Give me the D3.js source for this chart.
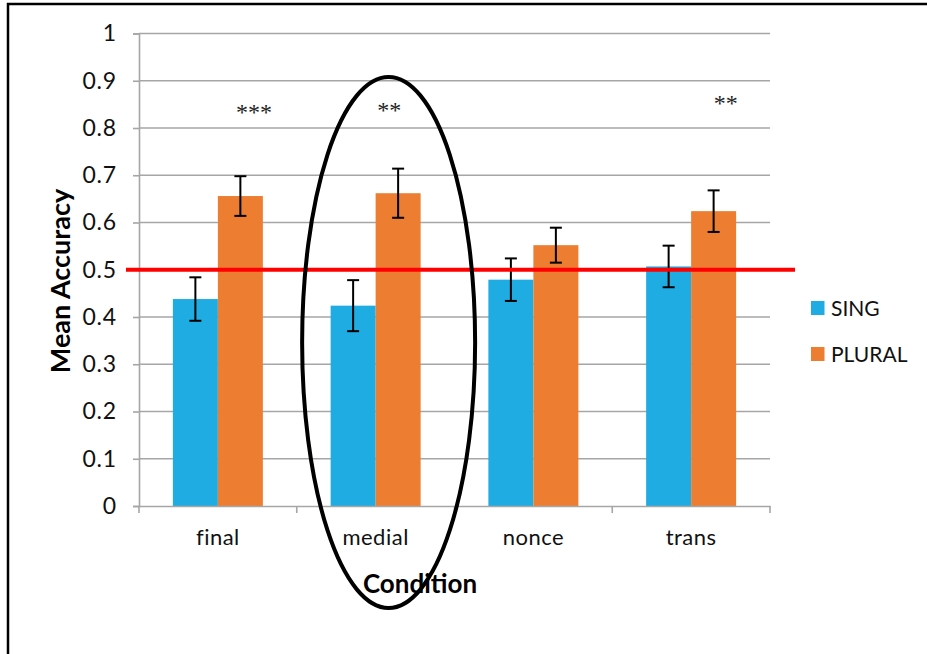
<!DOCTYPE html>
<html>
<head>
<meta charset="utf-8">
<script src="https://cdn.jsdelivr.net/npm/d3@7"></script>
<style>
  html, body { margin: 0; padding: 0; background: #fff; }
  svg { display: block; }
</style>
</head>
<body>
<svg id="chart" width="927" height="654"></svg>
<script>
// Mean accuracy per condition, singular vs plural items
const categories = ["final", "medial", "nonce", "trans"];
const seriesNames = ["SING", "PLURAL"];
const singValues = [0.438, 0.424, 0.479, 0.507];
const pluralValues = [0.656, 0.662, 0.552, 0.624];
const singErrors = [0.046, 0.054, 0.045, 0.044];
const pluralErrors = [0.042, 0.052, 0.037, 0.044];
// Significance stars and the accuracy level their baseline sits at
const significance = ["***", "**", "", "**"];
const sigLevels = [0.816, 0.822, null, 0.835];
const yTicks = [0, 0.1, 0.2, 0.3, 0.4, 0.5, 0.6, 0.7, 0.8, 0.9, 1];
const chanceLevel = 0.5;
const seriesColors = ["#1FACE3", "#ED7D31"];

const svg = d3.select("#chart");
const font = "Lato, 'Noto Sans', sans-serif";

// Outer frame
svg.append("rect")
  .attr("x", 8).attr("y", 4)
  .attr("width", 1000).attr("height", 1000)
  .attr("fill", "none").attr("stroke", "#000").attr("stroke-width", 2.5);

const plot = { left: 139, right: 770, top: 33.5, bottom: 506 };

const y = d3.scaleLinear().domain([0, 1]).range([plot.bottom, plot.top]);
const x0 = d3.scaleBand().domain(categories).range([plot.left, plot.right]).padding(0);
const x1 = d3.scaleBand().domain(seriesNames).range([0, x0.bandwidth()])
  .paddingInner(0).paddingOuter(0.753);
const color = d3.scaleOrdinal().domain(seriesNames).range(seriesColors);

// Horizontal gridlines
svg.append("g")
  .selectAll("line")
  .data(yTicks.filter(d => d > 0))
  .join("line")
  .attr("x1", plot.left).attr("x2", plot.right)
  .attr("y1", d => y(d)).attr("y2", d => y(d))
  .attr("stroke", "#A6A6A6").attr("stroke-width", 1.6);

// Y axis
const yAxis = svg.append("g")
  .attr("transform", `translate(${plot.left},0)`)
  .call(d3.axisLeft(y).tickValues(yTicks).tickSize(6).tickPadding(16)
    .tickFormat(d => d3.format("~g")(d)));
yAxis.selectAll("path, line").attr("stroke", "#A6A6A6").attr("stroke-width", 1.6);
yAxis.selectAll("text").attr("font-family", font).attr("font-size", 23)
  .attr("letter-spacing", 0.8).attr("fill", "#111");

// Bars
const rows = categories.map((c, i) => ({
  cat: c,
  items: [
    { s: "SING", v: singValues[i], e: singErrors[i] },
    { s: "PLURAL", v: pluralValues[i], e: pluralErrors[i] }
  ]
}));

const groups = svg.append("g").selectAll("g")
  .data(rows).join("g")
  .attr("transform", d => `translate(${x0(d.cat)},0)`);

groups.selectAll("rect")
  .data(d => d.items).join("rect")
  .attr("x", d => x1(d.s))
  .attr("width", x1.bandwidth())
  .attr("y", d => y(d.v))
  .attr("height", d => y(0) - y(d.v))
  .attr("fill", d => color(d.s));

// X axis
const xAxis = svg.append("g")
  .attr("transform", `translate(0,${plot.bottom})`)
  .call(d3.axisBottom(x0).tickSize(0).tickPadding(23));
xAxis.select("path").attr("stroke", "#A6A6A6").attr("stroke-width", 1.6);
xAxis.selectAll("text").attr("font-family", font).attr("font-size", 22)
  .attr("letter-spacing", 0.5).attr("fill", "#111");
// Category boundary ticks
const bounds = categories.map(c => x0(c)).concat([plot.right]);
svg.append("g").selectAll("line").data(bounds).join("line")
  .attr("x1", d => d).attr("x2", d => d)
  .attr("y1", plot.bottom).attr("y2", plot.bottom + 7)
  .attr("stroke", "#A6A6A6").attr("stroke-width", 1.6);

// Error bars
const cap = 6;
const eb = groups.selectAll("g.err")
  .data(d => d.items).join("g").attr("class", "err")
  .attr("stroke", "#000").attr("stroke-width", 2);
const cx = d => x1(d.s) + x1.bandwidth() / 2;
eb.append("line")
  .attr("x1", cx).attr("x2", cx)
  .attr("y1", d => y(d.v + d.e)).attr("y2", d => y(d.v - d.e));
eb.append("line")
  .attr("x1", d => cx(d) - cap).attr("x2", d => cx(d) + cap)
  .attr("y1", d => y(d.v + d.e)).attr("y2", d => y(d.v + d.e));
eb.append("line")
  .attr("x1", d => cx(d) - cap).attr("x2", d => cx(d) + cap)
  .attr("y1", d => y(d.v - d.e)).attr("y2", d => y(d.v - d.e));

// Chance line
svg.append("line")
  .attr("x1", 126).attr("x2", 795)
  .attr("y1", y(chanceLevel)).attr("y2", y(chanceLevel))
  .attr("stroke", "#FF0000").attr("stroke-width", 4);

// Significance markers
const sigOffsets = { final: 36, medial: 13.5, trans: 34.5 };
svg.append("g").selectAll("text")
  .data(categories.map((c, i) => ({ c, t: significance[i], h: sigLevels[i] })).filter(d => d.t))
  .join("text")
  .attr("x", d => x0(d.c) + x0.bandwidth() / 2 + sigOffsets[d.c])
  .attr("y", d => y(d.h))
  .attr("text-anchor", "middle")
  .attr("font-family", "'Liberation Serif', serif")
  .attr("font-size", 24)
  .attr("fill", "#222")
  .text(d => d.t);

// Highlight ellipse around the medial condition
svg.append("ellipse")
  .attr("cx", x0("medial") + x0.bandwidth() / 2 + 13)
  .attr("cy", 342.5)
  .attr("rx", 86.5).attr("ry", 265.5)
  .attr("fill", "none").attr("stroke", "#000").attr("stroke-width", 4);

// Axis titles
svg.append("text")
  .attr("transform", `translate(70,281) rotate(-90)`)
  .attr("text-anchor", "middle")
  .attr("font-family", font).attr("font-weight", "bold")
  .attr("font-size", 27).attr("fill", "#000")
  .text("Mean Accuracy");

svg.append("text")
  .attr("x", 420).attr("y", 593)
  .attr("text-anchor", "middle")
  .attr("font-family", font).attr("font-weight", "bold")
  .attr("font-size", 26).attr("fill", "#000")
  .text("Condition");

// Legend
const legend = svg.append("g").attr("transform", "translate(811,301)");
const li = legend.selectAll("g").data(seriesNames).join("g")
  .attr("transform", (d, i) => `translate(0,${i * 46})`);
li.append("rect").attr("width", 13.5).attr("height", 14).attr("fill", d => color(d));
li.append("text").attr("x", 20).attr("y", 14.5)
  .attr("font-family", font).attr("font-size", 21).attr("fill", "#111")
  .text(d => d);
</script>
</body>
</html>
